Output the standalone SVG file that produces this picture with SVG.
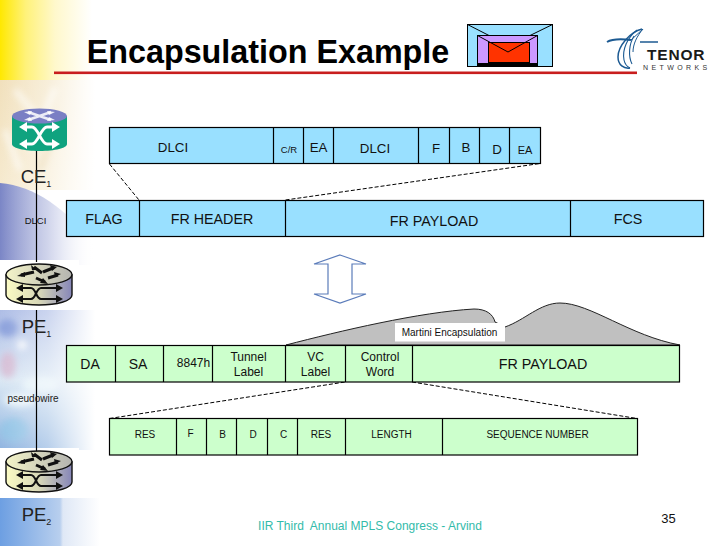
<svg xmlns="http://www.w3.org/2000/svg" width="728" height="546" viewBox="0 0 728 546">
<style>
text{font-family:"Liberation Sans",Arial,sans-serif;fill:#111;text-anchor:middle}
.b{fill:#99e0ff;stroke:#000;stroke-width:1.2}
.g{fill:#ccffcc;stroke:#000;stroke-width:1.2}
.d{stroke:#000;stroke-width:1;stroke-dasharray:4 2;fill:none}
.l{stroke:#000;stroke-width:1.2;fill:none}
.s{stroke:#111;stroke-width:2;fill:none}
.w{stroke:#fff;stroke-width:2.8;fill:none}
</style>
<defs>
<linearGradient id="y" x1="0" y1="0" x2="1" y2="0"><stop offset="0" stop-color="#ffe800"/><stop offset=".28" stop-color="#fff27a"/><stop offset=".6" stop-color="#fff8cc"/><stop offset="1" stop-color="#fff"/></linearGradient>
<linearGradient id="fade" x1="0" y1="0" x2="1" y2="0"><stop offset="0" stop-color="#fff" stop-opacity="0"/><stop offset=".5" stop-color="#fff" stop-opacity=".35"/><stop offset="1" stop-color="#fff"/></linearGradient>
<linearGradient id="rt" x1="0" y1="0" x2="1" y2="0"><stop offset="0" stop-color="#fbfbc4"/><stop offset=".5" stop-color="#d8d8b8"/><stop offset="1" stop-color="#8686b8"/></linearGradient>
<linearGradient id="rtop" x1="0" y1="0" x2="1" y2="0"><stop offset="0" stop-color="#f4f4c8"/><stop offset="1" stop-color="#b4b4b0"/></linearGradient>
<linearGradient id="sand" x1="0" y1="0" x2="1" y2="1"><stop offset="0" stop-color="#f1e0bc"/><stop offset="1" stop-color="#fbf4e2"/></linearGradient>
<linearGradient id="blue" x1="0" y1="0" x2="1" y2="0"><stop offset="0" stop-color="#7b86c6"/><stop offset=".6" stop-color="#c2c8e6"/><stop offset="1" stop-color="#fff"/></linearGradient>
<linearGradient id="sky" x1="0" y1="0" x2="0" y2="1"><stop offset="0" stop-color="#aebde6"/><stop offset=".5" stop-color="#dbe8f4"/><stop offset="1" stop-color="#8fb4e0"/></linearGradient>
<linearGradient id="foot" x1="0" y1="0" x2="1" y2="0"><stop offset="0" stop-color="#6d9fe2"/><stop offset=".6" stop-color="#b8cfee"/><stop offset=".63" stop-color="#dfe8f6"/><stop offset="1" stop-color="#fff"/></linearGradient>
<filter id="bl" x="-30%" y="-30%" width="160%" height="160%"><feGaussianBlur stdDeviation="3"/></filter>
<g id="router">
<path d="M-33-16V4C-33 10-18 14 0 14S33 10 33 4V-16Z" fill="url(#rt)" stroke="#111" stroke-width="1.4"/>
<ellipse cy="-16.500" rx="33" ry="10.500" fill="url(#rtop)" stroke="#111" stroke-width="1.4"/>
<path d="M-5-24 3-18M-18-16-5-19M4-19 14-23M-3-13 6-9M9-13 19-16" stroke="#111" stroke-width="3" fill="none"/>
<path d="M-8-26-2-21-7-21ZM-22-15-14-19-14-14ZM18-24 11-26 13-20ZM9-7 1-8 4-13ZM22-17 15-19 16-14Z" fill="#111"/>
<path class="s" d="M-18-3H-8C-3-3-3 8 2 8H18M-18 8H-8C-3 8-3-3 2-3H18"/>
<path d="M-23-3-16-7V1ZM24-3 17-7V1ZM-23 8-16 4V12ZM24 8 17 4V12Z" fill="#111"/>
</g>
</defs>
<rect width="728" height="546" fill="#fff"/>
<rect x="0" y="0" width="92" height="80" fill="url(#y)"/>
<g id="backdrop">
<rect x="0" y="80" width="95" height="110" fill="url(#sand)"/>
<g filter="url(#bl)" opacity=".6">
<path d="M15 90 40 120 M55 88 30 150M5 130 20 170" stroke="#fff" stroke-width="6" fill="none"/>
<path d="M60 120 40 170" stroke="#e4cfa0" stroke-width="6" fill="none"/>
</g>
<path d="M0 183C35 186 65 208 95 245V265H0Z" fill="url(#blue)"/>
<rect x="0" y="310" width="95" height="140" fill="url(#sky)"/>
<g filter="url(#bl)" opacity=".8">
<ellipse cx="8" cy="328" rx="10" ry="9" fill="#7f96d8"/>
<ellipse cx="22" cy="345" rx="5" ry="5" fill="#fff"/>
<ellipse cx="8" cy="365" rx="8" ry="13" fill="#d8b8d0"/>
<ellipse cx="40" cy="385" rx="18" ry="8" fill="#eaf6fb"/>
<ellipse cx="20" cy="400" rx="16" ry="7" fill="#f4fbfd"/>
<ellipse cx="14" cy="430" rx="14" ry="12" fill="#8fc4e6"/>
</g>
<rect x="0" y="80" width="95" height="370" fill="url(#fade)"/>
<rect x="0" y="498" width="100" height="48" fill="url(#foot)"/>
</g>
<rect x="0" y="260" width="79" height="50" fill="#fff"/>
<rect x="0" y="448" width="79" height="50" fill="#fff"/>
<text x="268" y="63" font-size="32.300" font-weight="bold" style="fill:#000">Encapsulation Example</text>
<rect x="54" y="71.500" width="583" height="2.600" fill="#c81e1e"/>
<g id="envelope">
<rect x="467.500" y="24.500" width="85" height="42" fill="#99e0ff" stroke="#000"/>
<rect x="477.500" y="35.500" width="60" height="30" fill="#cc99ff" stroke="#000"/>
<rect x="488.500" y="42.500" width="41" height="20" fill="#ff3300" stroke="#000"/>
<path d="M467.500 24.500 489 35.500M552.500 24.500 530 35.500M477.500 35.500 508 52 537.500 35.500" fill="none" stroke="#000"/>
<rect x="477.500" y="63" width="60" height="3" fill="#000"/>
</g>
<g id="logo" fill="none" stroke="#1c5a92">
<path d="M607 42C612 39 622 39 631 40" stroke-width="2"/>
<path d="M631 40 643 29" stroke-width="1"/>
<path d="M642 29C630 32 618 46 618 57 618 65 624 69 630 68" stroke-width="1.500"/>
<path d="M637 30C627 38 622 50 624 60 625 65 628 67 630 68" stroke-width="1.100"/>
<path d="M634 36C629 44 628 56 632 64" stroke-width="1.100"/>
<path d="M643 29C637 36 633 44 633 52" stroke-width="1"/>
<path d="M640 42H658" stroke-width="1.500"/>
<text x="647" y="60" font-size="15.500" font-weight="bold" stroke="none" style="text-anchor:start;fill:#1a1a1a;letter-spacing:.8px">TENOR</text>
<text x="643" y="69.500" font-size="7" stroke="none" style="text-anchor:start;fill:#333;letter-spacing:3.400px">NETWORKS</text>
</g>
<g id="connectors">
<path class="l" d="M36.500 150V262M36.500 310V452"/>
<path class="d" d="M109.500 164 139 200M285.500 200 540 163.500M109.500 418.500 345 382M412 382 637 418.500"/>
</g>
<g id="CE1">
<path d="M12 116V144C12 148 24 151 39.500 151S67 148 67 144V116Z" fill="#0fa37f"/>
<ellipse cx="39.500" cy="116" rx="27.500" ry="7.500" fill="#7a7fc4"/>
<path class="w" d="M28 112 51 120M51 112 28 120" opacity=".85"/>
<path d="M24 112 32 111 30 115ZM55 112 47 111 49 115ZM24 120 32 121 30 117ZM55 120 47 121 49 117Z" fill="#fff" opacity=".85"/>
<path class="w" d="M24 127H32C38 127 41 144 47 144H55M24 144H32C38 144 41 127 47 127H55"/>
<path d="M19 127 27 122V132ZM60 127 52 122V132ZM19 144 27 139V149ZM60 144 52 139V149Z" fill="#fff"/>
<text x="36" y="182.500" font-size="18.500" style="fill:#222">CE<tspan font-size="9" dy="4">1</tspan></text>
</g>
<text x="35.500" y="224" font-size="9.500">DLCI</text>
<g id="PE1"><use href="#router" x="39" y="291"/><text x="36.500" y="333" font-size="18.500" style="fill:#222">PE<tspan font-size="9" dy="4">1</tspan></text></g>
<text x="33" y="402" font-size="10" style="fill:#222">pseudowire</text>
<g id="PE2"><use href="#router" x="39" y="478"/><text x="36.500" y="521" font-size="18.500" style="fill:#222">PE<tspan font-size="9" dy="4">2</tspan></text></g>
<g id="frame1">
<rect class="b" x="109.500" y="127.500" width="431" height="36"/>
<path class="l" d="M273.500 127.500V163.500M303.500 127.500V163.500M333.500 127.500V163.500M418.500 127.500V163.500M449.500 127.500V163.500M479.500 127.500V163.500M509.500 127.500V163.500"/>
<g font-size="13.300"><text x="173" y="152">DLCI</text><text x="375" y="153">DLCI</text><text x="318.500" y="152">EA</text><text x="436" y="153">F</text><text x="466" y="152">B</text><text x="497" y="154">D</text></g>
<text x="289" y="153" font-size="9.500">C/R</text><text x="525" y="153.500" font-size="11">EA</text>
</g>
<g id="frame2">
<rect class="b" x="66.500" y="200.500" width="637" height="36"/>
<path class="l" d="M139.500 200.500V236.500M285.500 200.500V236.500M570.500 200.500V236.500"/>
<g font-size="14.300"><text x="104" y="224">FLAG</text><text x="212" y="224">FR HEADER</text><text x="434" y="226">FR PAYLOAD</text><text x="628" y="224">FCS</text></g>
</g>
<g id="updown"><path d="M340 255 366 264H352V294H366L340 303 314 294H328V264H314Z" fill="#fff" stroke="#5b7cba" stroke-width="1.200"/></g>
<g id="martini">
<path d="M286 345C340 331 420 312 474 309 486 309 493 314 495 322L505 327C525 320 540 303 560 303 590 303 630 336 680 345Z" fill="#c0c0c0" stroke="#222" stroke-width="1"/>
<rect x="395" y="323" width="110" height="18.500" fill="#fff"/>
<text x="449.500" y="335.500" font-size="10">Martini Encapsulation</text>
</g>
<g id="frame3">
<rect class="g" x="66.500" y="345.500" width="613" height="36.500"/>
<path class="l" d="M115.500 345.500V382M163.500 345.500V382M212.500 345.500V382M285.500 345.500V382M345.500 345.500V382M412.500 345.500V382"/>
<text x="90" y="369" font-size="14">DA</text><text x="138" y="369" font-size="14">SA</text><text x="193.500" y="367" font-size="12">8847h</text>
<g font-size="12"><text x="248.500" y="361">Tunnel</text><text x="248.500" y="376">Label</text><text x="315.500" y="361">VC</text><text x="315.500" y="376">Label</text><text x="380" y="361">Control</text><text x="380" y="376">Word</text></g>
<text x="543" y="369" font-size="14.300">FR PAYLOAD</text>
</g>
<g id="frame4">
<rect class="g" x="109.500" y="418.500" width="528" height="36.500"/>
<path class="l" d="M176.500 418.500V455M206.500 418.500V455M236.500 418.500V455M267.500 418.500V455M297.500 418.500V455M345.500 418.500V455M442.500 418.500V455"/>
<g font-size="10"><text x="145" y="438">RES</text><text x="190.500" y="437">F</text><text x="222.500" y="438">B</text><text x="253" y="438">D</text><text x="283.500" y="438">C</text><text x="321" y="438">RES</text><text x="391.500" y="438">LENGTH</text><text x="537.500" y="438">SEQUENCE NUMBER</text></g>
</g>
<text x="370" y="529.500" font-size="12" style="fill:#33bbaa;white-space:pre">IIR Third  Annual MPLS Congress - Arvind</text>
<text x="668.500" y="523" font-size="13">35</text>
</svg>
